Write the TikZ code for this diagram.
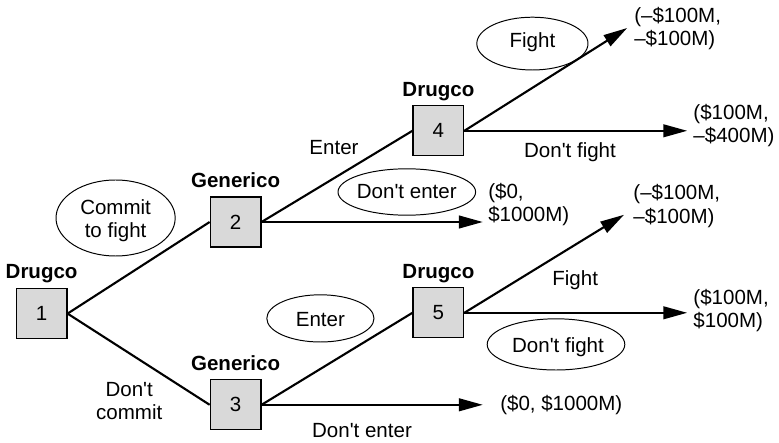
\documentclass[tikz,border=0pt]{standalone}
\usepackage{fontspec}
\setmainfont{Liberation Sans}
\usepackage{tikz}
\usetikzlibrary{arrows.meta,positioning}
\newcommand{\treefont}{\fontsize{14.6}{16.5}\selectfont}
\tikzset{
  move/.style={draw=black,line width=0.8pt,fill=black!15,minimum width=1.27cm,minimum height=1.25cm,inner sep=0pt},
  player/.style={font=\treefont\bfseries,inner sep=0pt,text depth=0pt},
  branch/.style={line width=1.5pt},
  tip/.style={branch,-{Triangle[length=17pt,width=9pt]}},
  oval/.style={line width=0.7pt},
  payoff/.style={align=left,anchor=west,inner sep=0pt},
  lab/.style={align=center,inner sep=0pt}
}
\begin{document}
\begin{tikzpicture}[font=\treefont]
\useasboundingbox (0,0) rectangle (19.475,11.05);
% nodos de decision
\node[move] (n1) at (1.04,3.21) {1};
\node[move] (n2) at (5.89,5.5) {2};
\node[move] (n3) at (5.89,0.93) {3};
\node[move] (n4) at (10.96,7.78) {4};
\node[move] (n5) at (10.96,3.23) {5};
% jugadores
\node[player,above=0.22cm of n1] (j1) {Drugco};
\node[player,above=0.22cm of n2] (j2) {Generico};
\node[player,above=0.22cm of n3] (j3) {Generico};
\node[player,above=0.22cm of n4] (j4) {Drugco};
\node[player,above=0.22cm of n5] (j5) {Drugco};
% pagos
\node[payoff] (p4a) at (15.85,10.34) {(--\$100M,\\--\$100M)};
\node[payoff] (p4b) at (17.33,7.91) {(\$100M,\\--\$400M)};
\node[payoff] (p2) at (12.2,5.93) {(\$0,\\\$1000M)};
\node[payoff] (p5a) at (15.83,5.9) {(--\$100M,\\--\$100M)};
\node[payoff] (p5b) at (17.33,3.28) {(\$100M,\\\$100M)};
\node[payoff] (p3) at (12.5,0.93) {(\$0, \$1000M)};
% puntas de flecha
\coordinate (f4a) at (15.68,10.35);
\coordinate (f4b) at (17.18,7.78);
\coordinate (f2) at (12.07,5.5);
\coordinate (f5a) at (15.6,5.68);
\coordinate (f5b) at (17.18,3.23);
\coordinate (f3) at (12.07,0.93);
% ramas
\draw[branch] (n1.east) -- (n2.west);
\draw[branch] (n1.east) -- (n3.west);
\draw[branch] (n2.east) -- (n4.west);
\draw[branch] (n3.east) -- (n5.west);
\draw[tip] (n2.east) -- (f2);
\draw[tip] (n3.east) -- (f3);
\draw[tip] (n4.east) -- (f4a);
\draw[tip] (n4.east) -- (f4b);
\draw[tip] (n5.east) -- (f5a);
\draw[tip] (n5.east) -- (f5b);
% acciones
\node[lab] (a1c) at (2.89,5.53) {Commit\\to fight};
\draw[oval] (2.89,5.6) ellipse (1.49 and 0.95);
\node[lab] (a1d) at (3.23,1.03) {Don\textquotesingle t\\commit};
\node[lab] (a2e) at (8.35,7.35) {Enter};
\node[lab] (a2d) at (10.17,6.25) {Don\textquotesingle t enter};
\draw[oval] (a2d) ellipse (1.72 and 0.58);
\node[lab] (a4f) at (13.31,9.99) {Fight};
\draw[oval] (13.31,9.96) ellipse (1.39 and 0.66);
\node[lab] (a4d) at (14.25,7.25) {Don\textquotesingle t fight};
\node[lab] (a3e) at (8.01,3.06) {Enter};
\draw[oval] (8.01,3.09) ellipse (1.34 and 0.59);
\node[lab] (a3d) at (9.05,0.28) {Don\textquotesingle t enter};
\node[lab] (a5f) at (14.38,4.05) {Fight};
\node[lab] (a5d) at (13.95,2.37) {Don\textquotesingle t fight};
\draw[oval] (13.9,2.44) ellipse (1.72 and 0.64);
\end{tikzpicture}
\end{document}
